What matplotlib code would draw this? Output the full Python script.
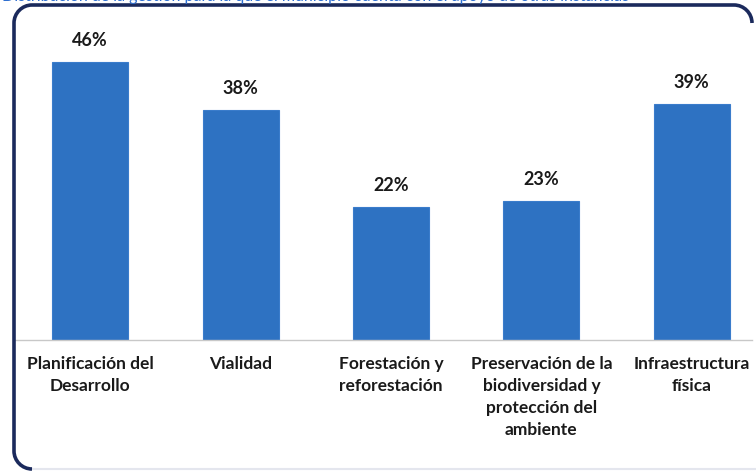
import matplotlib
matplotlib.use("Agg")
import matplotlib.pyplot as plt
from matplotlib.path import Path
from matplotlib.patches import PathPatch

categorias = [
    "Planificación del\nDesarrollo",
    "Vialidad",
    "Forestación y\nreforestación",
    "Preservación de la\nbiodiversidad y\nprotección del\nambiente",
    "Infraestructura\nfísica",
]
porcentajes = [46, 38, 22, 23, 39]
etiquetas = [f"{v}%" for v in porcentajes]
titulo = "Distribución de la gestión para la que el municipio cuenta con el apoyo de otras instancias"

plt.rcParams["font.family"] = ["Lato", "DejaVu Sans"]

W, H = 756, 477
fig = plt.figure(figsize=(W / 100, H / 100), dpi=100)
fig.patch.set_facecolor("white")

# titulo cortado arriba (solo se ve la parte inferior)
fig.text(2 / W, 1 - 1 / H, titulo, color="#2f6fd0", fontsize=11.5,
         va="baseline", ha="left")

# marco redondeado: lado izquierdo y superior en azul oscuro
x0, x1, yt, yb, r = 14, 752, H - 6, H - 470, 18
k = 0.55 * r
verts = [
    (x0 + r, yb),
    (x0 + r - k, yb), (x0, yb + r - k), (x0, yb + r),
    (x0, yt - r),
    (x0, yt - r + k), (x0 + r - k, yt), (x0 + r, yt),
    (x1 - r, yt),
    (x1 - r + k, yt), (x1, yt - r + k), (x1, yt - r),
]
codes = [Path.MOVETO,
         Path.CURVE4, Path.CURVE4, Path.CURVE4,
         Path.LINETO,
         Path.CURVE4, Path.CURVE4, Path.CURVE4,
         Path.LINETO,
         Path.CURVE4, Path.CURVE4, Path.CURVE4]
# borde inferior tenue
fig.patches.append(PathPatch(Path([(x0 + r, yb), (W, yb)]), transform=None,
                             fill=False, edgecolor="#e4e6ee", lw=1.5))
fig.patches.append(PathPatch(Path(verts, codes), transform=None, fill=False,
                             edgecolor="#1b2a5c", lw=2.6))

ax = fig.add_axes([15 / W, 136 / H, (752 - 15) / W, 302.5 / H])
ax.set_facecolor("none")
x = range(len(categorias))
barras = ax.bar(x, porcentajes, width=0.505, color="#2e72c2", edgecolor="#3a7ccb", lw=0.8)
ax.set_xlim(-0.5, 4.4)
ax.set_ylim(0, 50)

for b, t in zip(barras, etiquetas):
    ax.annotate(t, (b.get_x() + b.get_width() / 2, b.get_height()),
                xytext=(0, 10), textcoords="offset points", ha="center", va="bottom",
                fontsize=13, fontweight="bold", color="#1a1a1a")

ax.set_xticks(list(x))
ax.set_xticklabels(categorias, fontsize=12.5, fontweight="bold", color="#1a1a1a",
                   linespacing=1.45, va="top")
ax.tick_params(axis="x", length=0, pad=11)
ax.set_yticks([])
for s in ["top", "right", "left"]:
    ax.spines[s].set_visible(False)
ax.spines["bottom"].set_color("#c8c8c8")
ax.spines["bottom"].set_linewidth(1)

fig.savefig("out.png", dpi=100)
